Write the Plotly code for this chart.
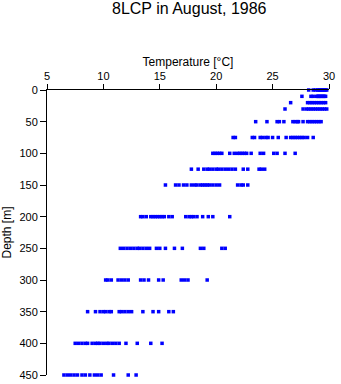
import plotly.graph_objects as go

depths = [0, 10, 20, 30, 50, 75, 100, 125, 150, 200, 250, 300, 350, 400, 450]

temps = {
    0: [28.2, 28.6, 28.8, 29.0, 29.1, 29.2, 29.3, 29.4, 29.5, 29.6, 29.7, 29.8],
    10: [27.6, 28.4, 28.6, 28.9, 29.0, 29.1, 29.2, 29.3, 29.4, 29.5, 29.6, 29.7],
    20: [26.6, 28.1, 28.3, 28.5, 28.7, 28.9, 29.1, 29.3, 29.5, 29.7],
    30: [26.1, 27.7, 28.0, 28.2, 28.4, 28.6, 28.8, 29.0, 29.2, 29.4, 29.6, 29.8],
    50: [23.5, 24.5, 25.4, 25.6, 26.0, 26.8, 27.0, 27.2, 27.3, 27.7, 28.1, 28.3,
         28.5, 28.7, 28.9, 29.1, 29.3],
    75: [21.5, 21.7, 23.2, 23.4, 23.9, 24.1, 24.4, 24.6, 25.0, 25.5, 26.2, 26.6,
         26.8, 27.0, 27.2, 27.4, 27.6, 27.8, 28.1, 28.6],
    100: [19.7, 19.9, 20.1, 20.3, 20.5, 21.2, 21.6, 21.9, 22.1, 22.3, 22.5, 22.7,
          23.1, 23.9, 24.2, 25.1, 25.4, 26.1, 27.0],
    125: [17.8, 18.4, 18.9, 19.2, 19.4, 19.7, 20.0, 20.2, 20.5, 20.8, 21.1, 21.4,
          21.7, 22.4, 22.8, 23.8, 24.0, 24.3],
    150: [15.5, 16.4, 16.7, 17.1, 17.4, 17.8, 18.1, 18.3, 18.6, 18.8, 19.0, 19.2,
          19.4, 19.7, 20.0, 20.3, 21.9, 22.2, 22.4, 22.8],
    200: [13.3, 13.5, 13.8, 14.2, 14.4, 14.6, 14.8, 15.0, 15.2, 15.4, 15.8, 16.1,
          17.3, 17.6, 17.8, 18.0, 18.3, 18.8, 19.3, 19.7, 21.2],
    250: [11.5, 11.8, 12.1, 12.4, 12.7, 13.0, 13.2, 13.5, 13.8, 14.1, 14.7, 15.0,
          15.5, 16.3, 17.0, 18.6, 18.9, 20.5, 20.8],
    300: [10.2, 10.4, 10.7, 11.3, 11.6, 11.9, 12.2, 13.3, 13.6, 14.0, 14.9, 15.3,
          16.9, 17.2, 17.5, 19.2],
    350: [8.6, 9.3, 9.7, 10.0, 10.2, 10.5, 10.7, 11.4, 11.6, 11.9, 12.2, 12.5,
          13.5, 14.4, 14.9, 15.8, 16.2],
    400: [7.5, 7.8, 8.1, 8.4, 8.6, 9.0, 9.3, 9.5, 9.7, 10.0, 10.3, 10.5, 10.8,
          11.1, 11.4, 12.0, 13.0, 14.2, 15.2],
    450: [6.5, 6.8, 7.1, 7.4, 7.7, 8.1, 8.4, 8.8, 9.2, 9.5, 9.8, 10.9, 12.2, 12.9],
}

x_ticks = [5, 10, 15, 20, 25, 30]
y_ticks = [0, 50, 100, 150, 200, 250, 300, 350, 400, 450]

xs, ys = [], []
for d in depths:
    for t in temps[d]:
        xs.append(t)
        ys.append(d)

font = "Liberation Sans, Arial, sans-serif"

fig = go.Figure()
fig.add_trace(go.Scatter(
    x=xs, y=ys, mode="markers",
    marker=dict(symbol="square", size=3.5, color="#0000FF", line=dict(width=0)),
    showlegend=False,
    cliponaxis=False,
))

fig.update_layout(
    width=341, height=384,
    margin=dict(l=47, r=12, t=90, b=9),
    paper_bgcolor="white", plot_bgcolor="white",
    font=dict(family=font, size=11, color="black"),
    title=dict(text="8LCP in August, 1986", font=dict(size=16, family=font, color="black"),
               x=0.555, xanchor="center", y=0.994, yanchor="top", yref="container"),
    xaxis=dict(
        side="top", range=[5, 30], tickvals=x_ticks, automargin=False,
        title=dict(text="Temperature [°C]", font=dict(size=12), standoff=0),
        showgrid=False, zeroline=False, showline=True, linecolor="black", linewidth=1,
        ticks="outside", ticklen=5, tickcolor="black",
    ),
    yaxis=dict(
        range=[450, 0], tickvals=y_ticks, automargin=False,
        title=dict(text="Depth [m]", font=dict(size=12), standoff=6),
        showgrid=False, zeroline=False, showline=True, linecolor="black", linewidth=1,
        ticks="outside", ticklen=6, tickcolor="black",
    ),
)

fig.write_html("out.html")
